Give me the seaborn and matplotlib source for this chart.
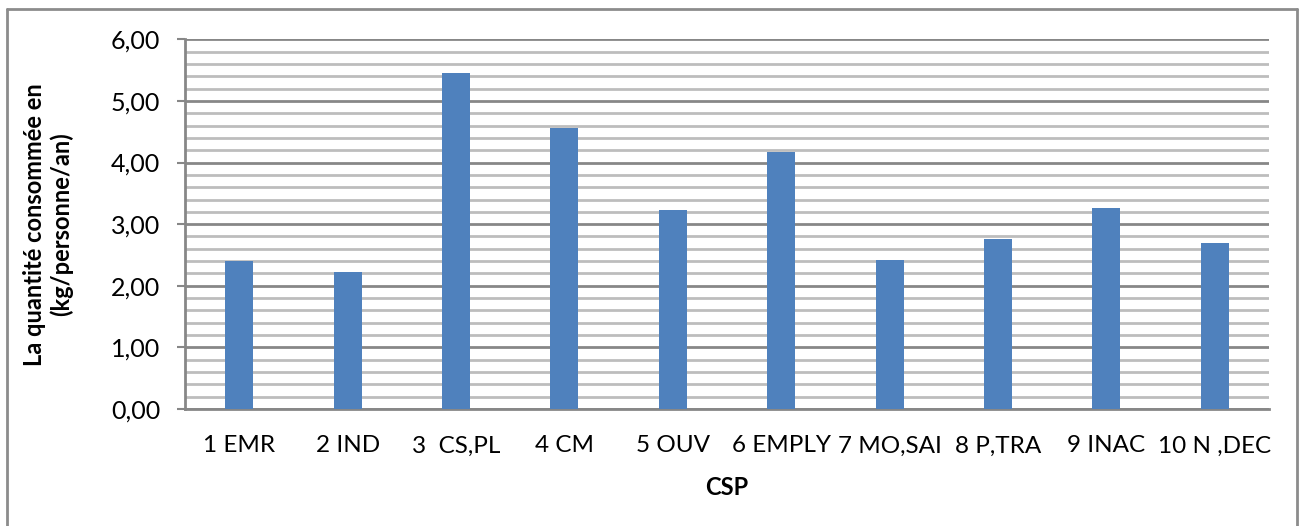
import matplotlib
matplotlib.use("Agg")
import matplotlib.pyplot as plt
from matplotlib.lines import Line2D
from matplotlib.ticker import MultipleLocator, FixedLocator
import seaborn as sns
import pandas as pd

categories = ["1 EMR", "2 IND", "3  CS,PL", "4 CM", "5 OUV",
              "6 EMPLY", "7 MO,SAI", "8 P,TRA", "9 INAC", "10 N ,DEC"]
quantities = [2.40, 2.23, 5.45, 4.56, 3.23, 4.17, 2.42, 2.76, 3.27, 2.70]
y_ticks = [0, 1, 2, 3, 4, 5, 6]
y_tick_labels = ["0,00", "1,00", "2,00", "3,00", "4,00", "5,00", "6,00"]

sns.set_theme(style="white")
plt.rcParams["font.family"] = ["Lato", "DejaVu Sans"]

df = pd.DataFrame({"CSP": categories, "Quantite": quantities})

W, H = 1302, 526
fig = plt.figure(figsize=(W / 100, H / 100), dpi=100)
ax = fig.add_axes([185 / W, 1 - 409 / H, (1269 - 185) / W, (409 - 39.3) / H])

sns.barplot(data=df, x="CSP", y="Quantite", color="#4F81BD", width=0.26,
            saturation=1, linewidth=0, ax=ax, zorder=3)

ax.set_ylim(0, 6)
ax.set_xlim(-0.5, len(categories) - 0.5)
ax.yaxis.set_major_locator(FixedLocator(y_ticks))
ax.set_yticklabels(y_tick_labels)
ax.yaxis.set_minor_locator(MultipleLocator(0.2))

ax.grid(which="major", axis="y", color="#878787", linewidth=2, zorder=1)
ax.grid(which="minor", axis="y", color="#bdbdbd", linewidth=2, zorder=1)
ax.grid(which="major", axis="x", visible=False)
ax.set_axisbelow(True)

for side in ["top", "right"]:
    ax.spines[side].set_visible(False)
for side in ["left", "bottom"]:
    ax.spines[side].set_color("#878787")
    ax.spines[side].set_linewidth(2)

ax.tick_params(axis="y", which="major", direction="out", length=6, width=1.5,
               color="#878787", left=True, pad=12, labelsize=18, labelcolor="black")
ax.tick_params(axis="y", which="minor", length=0)
ax.tick_params(axis="x", length=0, pad=19, labelsize=17.5, labelcolor="black")

ax.set_xlabel("CSP", fontsize=17, fontweight="bold", color="black")
ax.xaxis.set_label_coords(0.5, -0.18)
ax.set_ylabel("La quantité consommée en\n(kg/personne/an)", fontsize=17,
              fontweight="bold", color="black", linespacing=1.2)
ax.yaxis.set_label_coords(-0.103, 0.5)

# chart frame
frame_kw = dict(color="#8c8c8c", linewidth=2, transform=None)
fig.add_artist(Line2D([7, 7], [H - 9, -10], **frame_kw))
fig.add_artist(Line2D([7, 1297], [H - 9, H - 9], **frame_kw))
fig.add_artist(Line2D([1297, 1297], [H - 9, -10], **frame_kw))

fig.savefig("out.png", dpi=100)
